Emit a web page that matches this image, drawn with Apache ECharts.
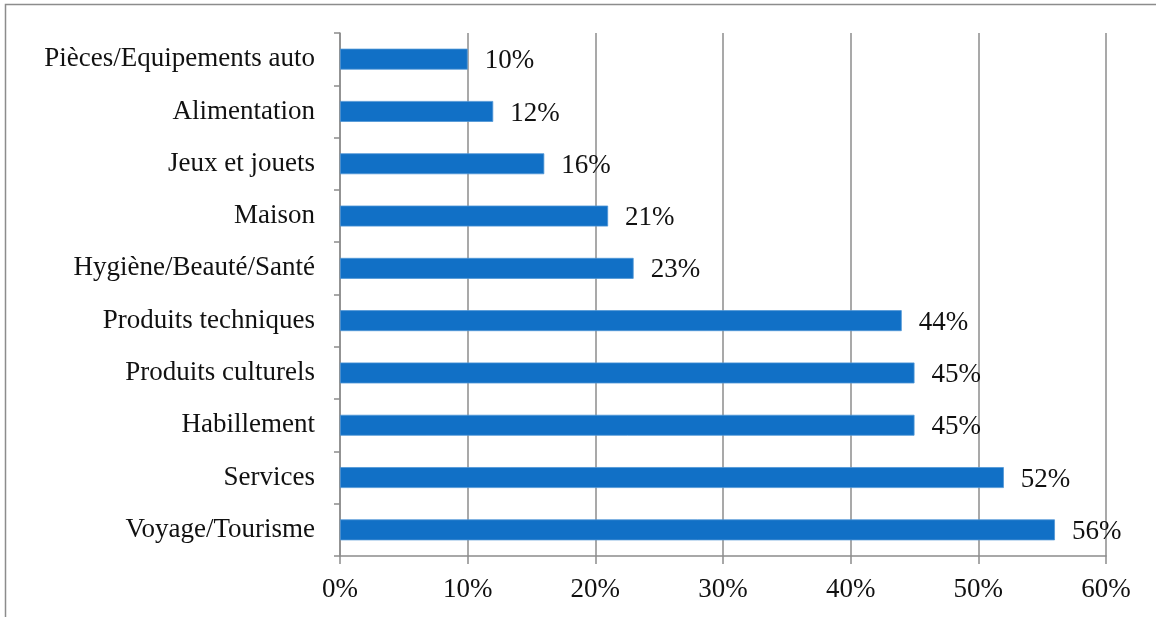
<!DOCTYPE html>
<html>
<head>
<meta charset="utf-8">
<script src="https://cdn.jsdelivr.net/npm/echarts@6/dist/echarts.min.js"></script>
<style>
  html, body { margin: 0; padding: 0; background: #fff; }
  #chart { width: 1156px; height: 617px; }
</style>
</head>
<body>
<div id="chart"></div>
<script>
// Product categories, listed top to bottom
const categories = [
  'Pièces/Equipements auto',
  'Alimentation',
  'Jeux et jouets',
  'Maison',
  'Hygiène/Beauté/Santé',
  'Produits techniques',
  'Produits culturels',
  'Habillement',
  'Services',
  'Voyage/Tourisme'
];
// Share of respondents, in percent
const shares = [10, 12, 16, 21, 23, 44, 45, 45, 52, 56];
// Value axis range and step, in percent
const axisMin = 0;
const axisMax = 60;
const axisStep = 10;

const font = '"Liberation Serif", "DejaVu Serif", serif';
const gridColor = '#8c8c8c';
const textSize = 27;

const chart = echarts.init(document.getElementById('chart'), null, { renderer: 'canvas' });

chart.setOption({
  backgroundColor: '#ffffff',
  animation: false,
  graphic: [
    {
      type: 'polyline',
      shape: { points: [[5.5, 620], [5.5, 4.5], [1160, 4.5]] },
      style: { stroke: '#8c8c8c', lineWidth: 1.5, fill: null },
      silent: true
    }
  ],
  grid: { left: 340, right: 50, top: 33, bottom: 61, containLabel: false },
  xAxis: {
    type: 'value',
    min: axisMin,
    max: axisMax,
    interval: axisStep,
    axisLine: { show: true, lineStyle: { color: gridColor, width: 1.5 } },
    axisTick: { show: true, length: 8, lineStyle: { color: gridColor, width: 1.5 } },
    splitLine: { show: true, lineStyle: { color: gridColor, width: 1.5 } },
    axisLabel: {
      formatter: '{value}%',
      color: '#111',
      fontFamily: font,
      fontSize: textSize,
      margin: 20
    }
  },
  yAxis: {
    type: 'category',
    data: categories,
    inverse: true,
    axisLine: { show: true, lineStyle: { color: gridColor, width: 1.5 } },
    axisTick: { show: true, length: 6, lineStyle: { color: gridColor, width: 1.5 } },
    splitLine: { show: false },
    axisLabel: {
      color: '#111',
      fontFamily: font,
      fontSize: textSize,
      margin: 25
    }
  },
  series: [
    {
      type: 'bar',
      data: shares,
      barCategoryGap: '60%',
      itemStyle: { color: '#1170c6', borderColor: '#4f95d6', borderWidth: 0.8 },
      label: {
        show: true,
        position: 'right',
        distance: 17,
        formatter: '{c}%',
        color: '#111',
        fontFamily: font,
        fontSize: textSize,
        offset: [0, 2]
      }
    }
  ]
});
</script>
</body>
</html>
